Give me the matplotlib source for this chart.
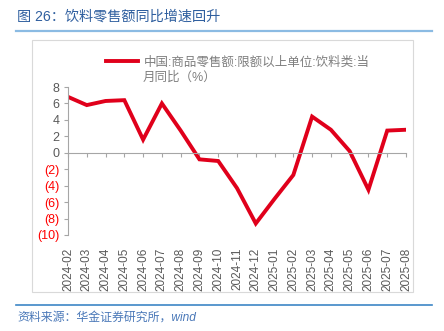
import matplotlib
matplotlib.use("Agg")
import matplotlib.pyplot as plt
from matplotlib.lines import Line2D
from matplotlib.patches import Rectangle

plt.rcParams['font.family'] = ['Liberation Sans', 'Noto Sans CJK SC', 'DejaVu Sans']

# data
months = ["2024-02", "2024-03", "2024-04", "2024-05", "2024-06", "2024-07",
          "2024-08", "2024-09", "2024-10", "2024-11", "2024-12", "2025-01",
          "2025-02", "2025-03", "2025-04", "2025-05", "2025-06", "2025-07",
          "2025-08"]
values = [6.8, 5.8, 6.3, 6.4, 1.6, 6.0, 2.7, -0.8, -1.0, -4.3, -8.6, -5.6,
          -2.7, 4.4, 2.8, 0.2, -4.5, 2.7, 2.8]
yticks = [8, 6, 4, 2, 0, -2, -4, -6, -8, -10]
series_name = "中国:商品零售额:限额以上单位:饮料类:当"
series_name2 = "月同比（%）"
title = "图 26：饮料零售额同比增速回升"
source = "资料来源：华金证券研究所，wind"

W, H = 444, 331
fig = plt.figure(figsize=(W / 100, H / 100), dpi=100)

def fx(px):
    return px / W

def fy(py):
    return 1 - py / H

# outer frame of chart
fig.patches.append(Rectangle((fx(32), fy(292)), fx(413) - fx(32), fy(40) - fy(292),
                             transform=fig.transFigure, fill=False,
                             edgecolor="#d9d9d9", lw=0.8))

# title and rules
fig.text(fx(17), fy(17), title, color="#2f5f9f", fontsize=10.2, va="center")
fig.add_artist(Line2D([fx(16), fx(432)], [fy(31), fy(31)], color="#8bbbe3", lw=1.6))
fig.add_artist(Line2D([fx(16), fx(432)], [fy(305), fy(305)], color="#3d86c6", lw=1.2))
fig.text(fx(17), fy(318), source, color="#4a78b8", fontsize=8.6, va="center", style="italic")

ax = fig.add_axes([fx(68), fy(235), fx(406) - fx(68), fy(87) - fy(235)])
x = list(range(len(months)))
ax.plot(x, values, color="#e0001b", lw=2.8, solid_joinstyle="miter",
        label=series_name)

ax.set_xlim(0, len(months) - 1)
ax.set_ylim(-10, 8)

for s in ["top", "right"]:
    ax.spines[s].set_visible(False)
ax.spines["left"].set_color("#a6a6a6")
ax.spines["bottom"].set_color("#a6a6a6")
ax.spines["bottom"].set_position(("data", 0))

ax.set_xticks(x)
ax.tick_params(axis="x", labelbottom=False, direction="out", length=3,
               color="#a6a6a6")
ax.set_yticks(yticks)
ylabels = [str(v) if v >= 0 else "(%d)" % (-v) for v in yticks]
ax.set_yticklabels(ylabels, fontsize=9)
ax.tick_params(axis="y", direction="out", length=3, color="#a6a6a6", pad=3)
for lab, v in zip(ax.get_yticklabels(), yticks):
    lab.set_color("#595959" if v >= 0 else "#ff0000")

sec = ax.secondary_xaxis("bottom")
sec.set_xticks(x)
sec.set_xticklabels(months, rotation=90, fontsize=8.5, color="#595959")
sec.spines["bottom"].set_visible(False)
sec.tick_params(length=0, pad=9)

leg = ax.legend(loc="upper left", bbox_to_anchor=(fx(100), fy(50)),
                bbox_transform=fig.transFigure, frameon=False, fontsize=9,
                handlelength=2.5, handletextpad=0.5, borderpad=0)
leg.get_texts()[0].set_color("#7f7f7f")
# second line of the legend label
fig.text(fx(143), fy(78), series_name2, fontsize=9, color="#7f7f7f",
         va="center", ha="left")

fig.savefig("out.png", dpi=100)
